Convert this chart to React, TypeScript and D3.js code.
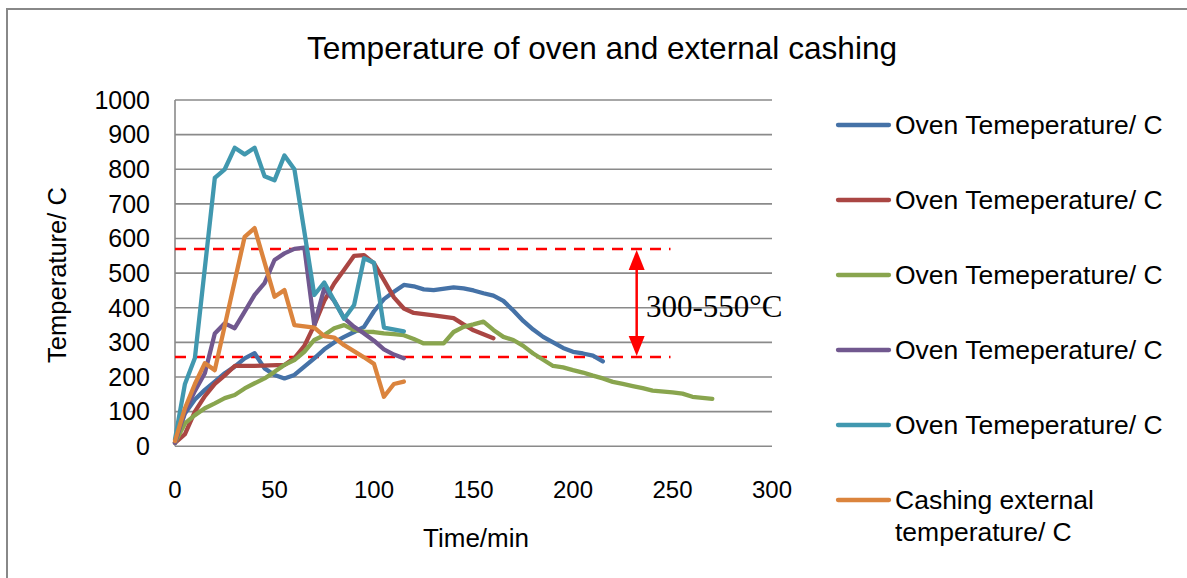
import { scaleLinear, line as d3line } from "d3";

// time (min) and temperature readings, one pair of arrays per run
const oven1Time = [0, 5, 10, 15, 20, 25, 30, 35, 40, 45, 50, 55, 60, 65, 70, 75, 80, 85, 90, 95, 100, 105, 110, 115, 120, 125, 130, 140, 145, 150, 155, 160, 165, 170, 175, 180, 185, 190, 195, 200, 205, 210, 215];
const oven1Temp = [10, 95, 135, 163, 187, 211, 230, 254, 269, 225, 206, 196, 206, 230, 254, 280, 300, 316, 330, 345, 390, 425, 446, 466, 462, 453, 451, 459, 456, 450, 442, 435, 420, 392, 362, 337, 316, 300, 284, 273, 268, 262, 245];

const oven2Time = [0, 5, 10, 15, 20, 25, 30, 40, 55, 60, 65, 70, 75, 80, 85, 90, 95, 100, 105, 110, 115, 120, 130, 140, 145, 150, 160];
const oven2Temp = [10, 35, 100, 145, 180, 205, 232, 232, 235, 255, 290, 350, 420, 470, 510, 550, 552, 528, 480, 430, 398, 385, 378, 370, 352, 335, 312];

const oven3Time = [0, 5, 10, 15, 20, 25, 30, 35, 40, 45, 50, 55, 60, 65, 70, 75, 80, 85, 90, 95, 100, 105, 110, 115, 120, 125, 135, 140, 145, 150, 155, 160, 165, 170, 175, 180, 185, 190, 195, 200, 205, 210, 215, 220, 225, 230, 235, 240, 250, 255, 260, 265, 270];
const oven3Temp = [10, 66, 90, 110, 124, 139, 148, 167, 182, 196, 215, 235, 249, 273, 307, 321, 341, 350, 336, 331, 330, 326, 324, 321, 310, 297, 297, 330, 345, 352, 360, 336, 316, 307, 290, 268, 250, 232, 228, 220, 213, 204, 196, 186, 180, 174, 168, 161, 156, 152, 143, 140, 137];

const oven4Time = [0, 5, 10, 15, 20, 25, 30, 35, 40, 45, 50, 55, 60, 65, 70, 75, 80, 85, 90, 95, 100, 105, 110, 115];
const oven4Temp = [10, 100, 160, 211, 326, 355, 341, 389, 437, 471, 538, 557, 570, 574, 350, 456, 420, 370, 345, 326, 305, 280, 265, 254];

const oven5Time = [0, 5, 10, 20, 25, 30, 35, 40, 45, 50, 55, 60, 65, 70, 75, 85, 90, 95, 100, 105, 115];
const oven5Temp = [20, 180, 255, 775, 800, 862, 843, 862, 780, 768, 840, 800, 620, 437, 473, 368, 408, 543, 530, 343, 332];

const casingTime = [0, 5, 10, 15, 20, 35, 40, 50, 55, 60, 70, 75, 80, 85, 95, 100, 105, 110, 115];
const casingTemp = [15, 110, 180, 240, 220, 605, 630, 432, 451, 350, 343, 318, 314, 292, 257, 238, 143, 180, 187];

const seriesNames = [
  "Oven Temeperature/ C",
  "Oven Temeperature/ C",
  "Oven Temeperature/ C",
  "Oven Temeperature/ C",
  "Oven Temeperature/ C",
  "Cashing external temperature/ C",
];
const seriesColors = ["#4572A7", "#AA4643", "#89A54E", "#71588F", "#4198AF", "#DB843D"];

const xTicks = [0, 50, 100, 150, 200, 250, 300];
const yTicks = [0, 100, 200, 300, 400, 500, 600, 700, 800, 900, 1000];

// target band drawn as dashed red lines
const bandLow = 258;
const bandHigh = 570;
const bandEnd = 249;
const arrowAt = 232;

export default function App() {
  const x = scaleLinear().domain([0, 300]).range([175, 772]);
  const y = scaleLinear().domain([0, 1000]).range([446.3, 100]);

  const series = [
    [oven1Time, oven1Temp],
    [oven2Time, oven2Temp],
    [oven3Time, oven3Temp],
    [oven4Time, oven4Temp],
    [oven5Time, oven5Temp],
    [casingTime, casingTemp],
  ];

  const line = d3line<[number, number]>()
    .x((d) => x(d[0]))
    .y((d) => y(d[1]));

  const font = "'Liberation Sans', Arial, sans-serif";
  const ax = arrowAt;

  return (
    <div style={{ position: "absolute", left: 0, top: 0 }}>
      <svg width={1187} height={578} style={{ display: "block", background: "#fff" }}>
        <rect x={7} y={9} width={1200} height={600} fill="#fff" stroke="#888" strokeWidth={2} />

        <text x={602} y={59} textAnchor="middle" fontFamily={font} fontSize={31.6}>
          Temperature of oven and external cashing
        </text>

        {/* Grid lines */}
        {yTicks.map((t) => (
          <line key={t} x1={x(0)} x2={x(300)} y1={y(t)} y2={y(t)} stroke="#8a8a8a" strokeWidth={1.6} />
        ))}
        <line x1={x(0)} x2={x(0)} y1={y(0)} y2={y(1000)} stroke="#8a8a8a" strokeWidth={1.6} />

        {yTicks.map((t) => (
          <text key={t} x={150} y={y(t)} dy="0.35em" textAnchor="end" fontFamily={font} fontSize={25}>
            {t}
          </text>
        ))}
        {xTicks.map((t) => (
          <text key={t} x={x(t)} y={490} dy="0.35em" textAnchor="middle" fontFamily={font} fontSize={24}>
            {t}
          </text>
        ))}

        <text x={476} y={538} dy="0.35em" textAnchor="middle" fontFamily={font} fontSize={26}>
          Time/min
        </text>
        <text
          transform="translate(57,275) rotate(-90)"
          dy="0.35em"
          textAnchor="middle"
          fontFamily={font}
          fontSize={25.5}
        >
          Temperature/ C
        </text>

        {/* Band */}
        {[bandLow, bandHigh].map((v) => (
          <line key={v} x1={x(0)} x2={x(bandEnd)} y1={y(v)} y2={y(v)} stroke="#ff0000" strokeWidth={2.5} strokeDasharray="11 8" />
        ))}

        {/* Series */}
        {series.map(([ts, vs], i) => (
          <path
            key={i}
            d={line(ts.map((t, j) => [t, vs[j]] as [number, number])) ?? ""}
            fill="none"
            stroke={seriesColors[i]}
            strokeWidth={4.3}
            strokeLinejoin="round"
            strokeLinecap="round"
          />
        ))}

        {/* Arrow */}
        <line x1={x(ax)} x2={x(ax)} y1={y(bandHigh) + 16} y2={y(bandLow) - 16} stroke="#ff0000" strokeWidth={2.5} />
        <path
          d={`M${x(ax)},${y(bandHigh) + 1} l-8,20 l16,0 Z`}
          fill="#ff0000"
        />
        <path
          d={`M${x(ax)},${y(bandLow) - 1} l-8,-20 l16,0 Z`}
          fill="#ff0000"
        />
        <text x={646} y={317} fontFamily="'Liberation Serif', 'Times New Roman', serif" fontSize={31}>
          300-550°C
        </text>

        {/* Legend */}
        {seriesNames.map((name, i) => {
          const ly = 125 + i * 75;
          const parts = i === 5 ? ["Cashing external", "temperature/ C"] : [name];
          return (
            <g key={i}>
              <line x1={838} x2={889} y1={ly} y2={ly} stroke={seriesColors[i]} strokeWidth={4.3} strokeLinecap="round" />
              {parts.map((p, k) => (
                <text key={k} x={895} y={ly + k * 32} dy="0.35em" fontFamily={font} fontSize={26.5}>
                  {p}
                </text>
              ))}
            </g>
          );
        })}
      </svg>
    </div>
  );
}
